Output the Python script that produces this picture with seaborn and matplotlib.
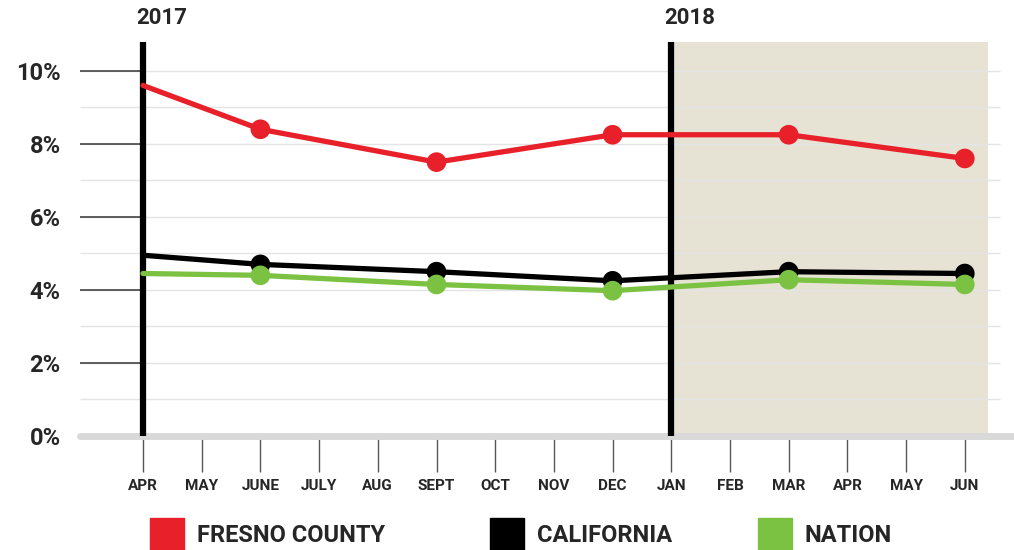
import seaborn as sns
import matplotlib.pyplot as plt
import pandas as pd
from matplotlib.patches import Rectangle

# month axis, Apr 2017 .. Jun 2018
months = ['APR', 'MAY', 'JUNE', 'JULY', 'AUG', 'SEPT', 'OCT', 'NOV', 'DEC',
          'JAN', 'FEB', 'MAR', 'APR', 'MAY', 'JUN']
# surveyed months (index into months)
point_idx = [0, 2, 5, 8, 11, 14]

fresno = [9.6, 8.4, 7.5, 8.25, 8.25, 7.6]
california = [4.95, 4.7, 4.5, 4.25, 4.5, 4.45]
nation = [4.45, 4.4, 4.15, 3.98, 4.28, 4.15]

series = ['FRESNO COUNTY', 'CALIFORNIA', 'NATION']
colors = ['#e8202a', '#000000', '#7cc242']
year_labels = ['2017', '2018']
year_idx = [0, 9]

df = pd.DataFrame({
    'month': point_idx * 3,
    'rate': fresno + california + nation,
    'series': [s for s in series for _ in point_idx],
})

sns.set_style('white')
plt.rcParams['font.family'] = ['Roboto', 'DejaVu Sans']

fig = plt.figure(figsize=(10.14, 5.5), dpi=100)
ax = fig.add_axes([80 / 1014, 114 / 550, 934 / 1014, 394 / 550])

x_left = (80 - 143) / 58.7
x_right = (1014 - 143) / 58.7
ax.set_xlim(x_left, x_right)
ax.set_ylim(0, 10.79)

# shaded 2018 area
ax.axvspan(9, 14.4, color='#e6e3d4', zorder=0, lw=0)

# gridlines every 1%
for v in range(1, 11):
    ax.hlines(v, x_left, 14.6, color='#e4e4e4', lw=1, zorder=1)
for v in range(2, 11, 2):
    ax.hlines(v, x_left, 0, color='#444444', lw=1.2, zorder=1)

# baseline
ax.axhline(0, color='#d9d9d9', lw=5, zorder=2, clip_on=False)

# year bars
for xi, lab in zip(year_idx, year_labels):
    ax.axvline(xi, color='black', lw=4.5, zorder=2)
    ax.text(xi - 0.12, 11.45, lab, ha='left', va='center', fontsize=16,
            fontweight='bold', clip_on=False)

sns.lineplot(data=df, x='month', y='rate', hue='series', palette=colors,
             hue_order=series, lw=3.8, legend=False, ax=ax, zorder=3)
sns.scatterplot(data=df[df['month'] > 0], x='month', y='rate', hue='series',
                palette=colors, hue_order=series, s=200, linewidth=0,
                legend=False, ax=ax, zorder=4)

ax.set_yticks(range(0, 11, 2))
ax.set_yticklabels([f'{v}%' for v in range(0, 11, 2)], fontsize=17,
                   fontweight='bold')
ax.tick_params(axis='y', left=False, length=0, pad=14)

ax.set_xticks(range(len(months)))
ax.set_xticklabels(months, fontsize=11, fontweight='bold')
ax.tick_params(axis='x', bottom=True, length=26, width=1, color='#555555',
               pad=5, direction='out')
ax.set_xlabel('')
ax.set_ylabel('')
for sp in ax.spines.values():
    sp.set_visible(False)

# legend
leg_x = [150, 490, 758]
for xp, col, lab in zip(leg_x, colors, series):
    fig.add_artist(Rectangle((xp / 1014, 0), 34 / 1014, 32 / 550,
                             transform=fig.transFigure, color=col))
    fig.text((xp + 47) / 1014, 14 / 550, lab, fontsize=17, fontweight='bold',
             va='center', ha='left')

fig.savefig('out.png', dpi=100)
